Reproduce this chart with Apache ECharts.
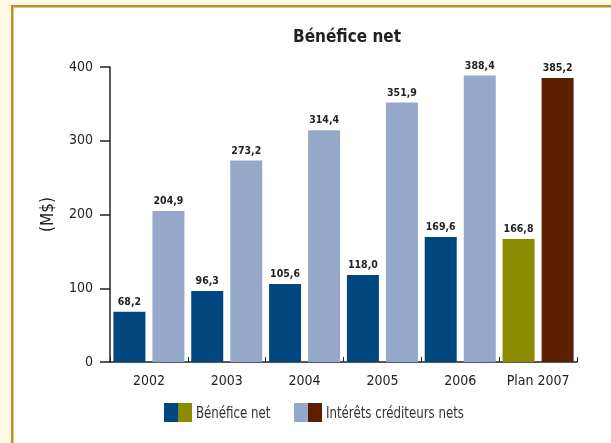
<!DOCTYPE html>
<html>
<head>
<meta charset="utf-8">
<script src="https://cdn.jsdelivr.net/npm/echarts@6/dist/echarts.min.js"></script>
<style>
  html, body { margin: 0; padding: 0; background: #fff8e5; }
  #panel {
    position: absolute; left: 11px; top: 5px; width: 620px; height: 460px;
    background: #ffffff; border-left: 2px solid #b8912c; border-top: 2px solid #b8912c;
    box-shadow: inset 1px 1px 0 #e2c77a;
  }
  #chart { position: absolute; left: 0; top: 0; width: 611px; height: 443px; }
</style>
</head>
<body>
<div id="panel"></div>
<div id="chart"></div>
<script>
const categories = ['2002', '2003', '2004', '2005', '2006', 'Plan 2007'];
const netIncome = [68.2, 96.3, 105.6, 118.0, 169.6, 166.8];
const netInterest = [204.9, 273.2, 314.4, 351.9, 388.4, 385.2];
const yTicks = [0, 100, 200, 300, 400];

const FONT = '"DejaVu Sans Condensed", "Liberation Sans Narrow", "Liberation Sans", Arial, sans-serif';
const C_NET = '#00477f', C_NET_PLAN = '#8c8a00';
const C_INT = '#95a8c9', C_INT_PLAN = '#5b1e00';

function colored(values, base, plan) {
  return values.map((v, i) => ({
    value: v,
    itemStyle: { color: i === values.length - 1 ? plan : base }
  }));
}

const fmt = p => p.value.toFixed(1).replace('.', ',');
const valueLabel = {
  show: true, position: 'top', distance: 4, formatter: fmt,
  fontFamily: FONT, fontWeight: 'bold', fontSize: 10.5, color: '#222'
};

const legendText = (x, text) => ({
  type: 'text', x: x, y: 414, scaleX: 0.82,
  style: { text: text, fill: '#333', font: '16px ' + FONT, textVerticalAlign: 'middle' }
});

const chart = echarts.init(document.getElementById('chart'), null, { renderer: 'canvas' });
chart.setOption({
  backgroundColor: 'transparent',
  animation: false,
  title: {
    text: 'Bénéfice net', left: 342, top: 24, textAlign: 'center',
    textStyle: { fontFamily: FONT, fontSize: 17, fontWeight: 'bold', color: '#222' }
  },
  grid: { left: 110, right: 34, top: 67, bottom: 81, containLabel: false },
  xAxis: {
    type: 'category', data: categories,
    axisLine: { lineStyle: { color: '#222', width: 1.5 } },
    axisTick: { show: true, inside: true, length: 5, interval: 0, lineStyle: { color: '#222' } },
    axisLabel: { interval: 0, fontFamily: FONT, fontSize: 14, color: '#222', margin: 12 }
  },
  yAxis: {
    type: 'value', min: yTicks[0], max: yTicks[yTicks.length - 1], interval: 100,
    name: '(M$)', nameLocation: 'middle', nameGap: 53, nameRotate: 90,
    nameTextStyle: { fontFamily: FONT, fontSize: 17, color: '#222' },
    axisLine: { show: true, lineStyle: { color: '#222', width: 1.5 } },
    axisTick: { show: true, length: 10, lineStyle: { color: '#222', width: 1.5 } },
    axisLabel: { fontFamily: FONT, fontSize: 14, color: '#222', margin: 17 },
    splitLine: { show: false }
  },
  series: [
    {
      name: 'Bénéfice net', type: 'bar', barWidth: 32, barGap: '22%',
      data: colored(netIncome, C_NET, C_NET_PLAN), label: valueLabel
    },
    {
      name: 'Intérêts créditeurs nets', type: 'bar', barWidth: 32,
      data: colored(netInterest, C_INT, C_INT_PLAN), label: valueLabel
    }
  ],
  graphic: [
    { type: 'rect', shape: { x: 164, y: 403, width: 14, height: 19 }, style: { fill: C_NET } },
    { type: 'rect', shape: { x: 178, y: 403, width: 14, height: 19 }, style: { fill: C_NET_PLAN } },
    legendText(196, 'Bénéfice net'),
    { type: 'rect', shape: { x: 294, y: 403, width: 14, height: 19 }, style: { fill: C_INT } },
    { type: 'rect', shape: { x: 308, y: 403, width: 14, height: 19 }, style: { fill: C_INT_PLAN } },
    legendText(326, 'Intérêts créditeurs nets')
  ]
});
</script>
</body>
</html>
